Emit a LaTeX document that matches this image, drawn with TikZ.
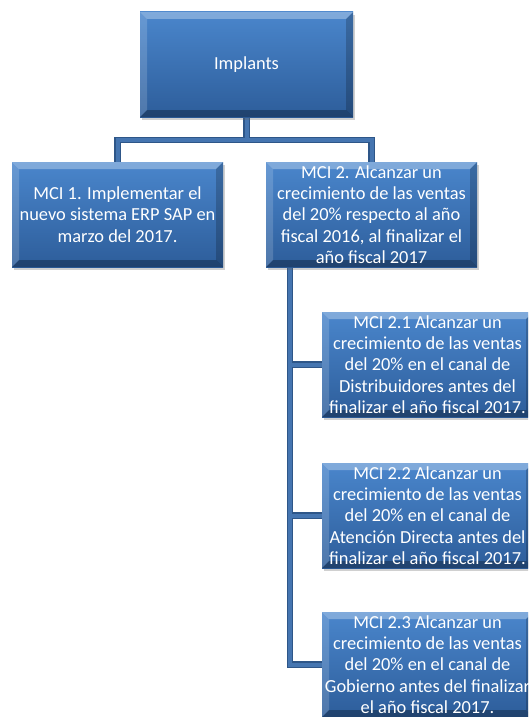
\documentclass[tikz,border=0pt]{standalone}
\usepackage{fontspec}
\setmainfont{Carlito}
\usetikzlibrary{calc,shadows,backgrounds}
\definecolor{boxtop}{HTML}{4A86CC}
\definecolor{boxbot}{HTML}{2D5D9A}
\definecolor{lineout}{HTML}{2E5688}
\definecolor{linein}{HTML}{4575B0}
\tikzset{
  bevbox/.style={minimum width=211pt, minimum height=105pt, inner sep=0pt,
    top color=boxtop, bottom color=boxbot, draw=none,
    text=white, align=center, font=\fontsize{18.4}{21.3}\selectfont,
    drop shadow={shadow xshift=2pt, shadow yshift=-3pt, opacity=0.3, fill=black!60},
    path picture={
      \coordinate (nw) at (path picture bounding box.north west);
      \coordinate (ne) at (path picture bounding box.north east);
      \coordinate (sw) at (path picture bounding box.south west);
      \coordinate (se) at (path picture bounding box.south east);
      \fill[white,opacity=0.30] (nw) -- (ne) -- ($(ne)+(-7pt,-7pt)$) -- ($(nw)+(7pt,-7pt)$) -- cycle;
      \fill[white,opacity=0.16] (nw) -- ($(nw)+(7pt,-7pt)$) -- ($(sw)+(7pt,7pt)$) -- (sw) -- cycle;
      \fill[black,opacity=0.20] (ne) -- (se) -- ($(se)+(-7pt,7pt)$) -- ($(ne)+(-7pt,-7pt)$) -- cycle;
      \fill[black,opacity=0.28] (sw) -- (se) -- ($(se)+(-7pt,7pt)$) -- ($(sw)+(7pt,7pt)$) -- cycle;
    }},
  connout/.style={draw=lineout, line width=6.5pt},
  connin/.style={draw=linein, line width=4pt},
}
\begin{document}
\begin{tikzpicture}[x=1pt,y=-1pt]
\useasboundingbox (0,0) rectangle (528,717);
\clip (0,0) rectangle (528,717);
\node[bevbox, minimum width=213pt] (root) at (246.5,64.5) {Implants};
\node[bevbox] (m1) at (117.5,214.5) {MCI 1. Implementar el\\nuevo sistema ERP SAP en\\marzo del 2017.};
\node[bevbox] (m2) at (371.5,214.5) {MCI 2. Alcanzar un\\crecimiento de las ventas\\del 20\% respecto al año\\fiscal 2016, al finalizar el\\año fiscal 2017};
\node[bevbox] (m21) at (427.5,364.5) {MCI 2.1 Alcanzar un\\crecimiento de las ventas\\del 20\% en el canal de\\Distribuidores antes del\\finalizar el año fiscal 2017.};
\node[bevbox] (m22) at (427.5,515.5) {MCI 2.2 Alcanzar un\\crecimiento de las ventas\\del 20\% en el canal de\\Atención Directa antes del\\finalizar el año fiscal 2017.};
\node[bevbox] (m23) at (427.5,664.5) {MCI 2.3 Alcanzar un\\crecimiento de las ventas\\del 20\% en el canal de\\Gobierno antes del finalizar\\el año fiscal 2017.};
\coordinate (bus) at ($(root.south)+(0,23)$);
\coordinate (v0) at ($(m2.south west)+(24,0)$);
\coordinate (v3) at (v0 |- m23.west);
\begin{scope}[on background layer]
\fill[white] (0,0) rectangle (528,717);
\foreach \s in {connout,connin}{
  \draw[\s] (root.south) -- (bus);
  \draw[\s] (m1.north) |- (bus) -| (m2.north);
  \draw[\s] (v0) -- (v3) -- (m23.west);
  \draw[\s] (v0 |- m21.west) -- (m21.west);
  \draw[\s] (v0 |- m22.west) -- (m22.west);
}
\end{scope}
\end{tikzpicture}
\end{document}
